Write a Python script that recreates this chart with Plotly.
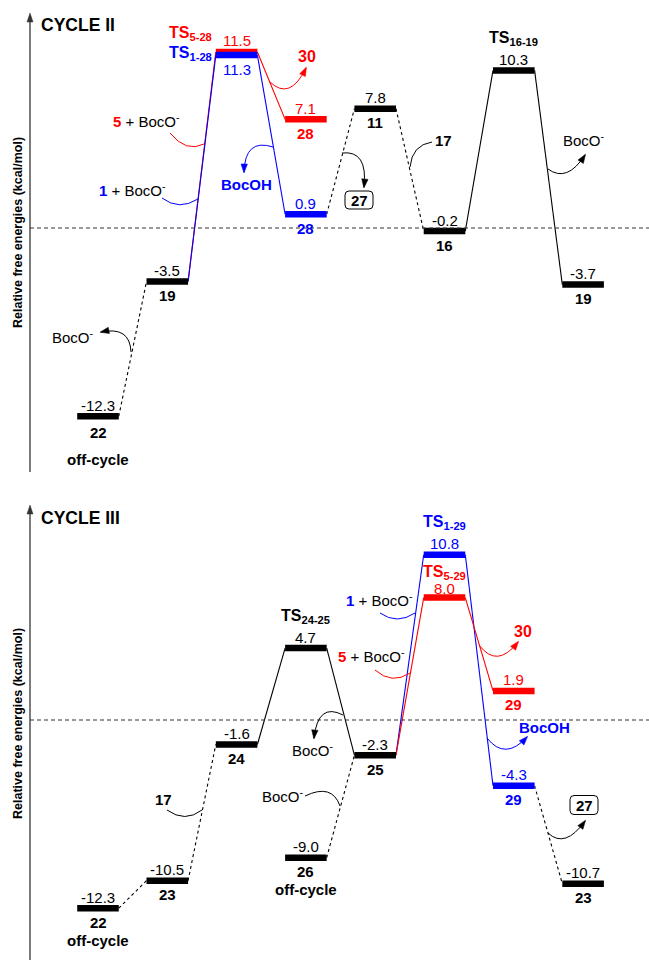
import plotly.graph_objects as go
import math

# ---------------- data ----------------
# CYCLE II
c2_species = ["22", "19", "TS<sub>5-28</sub>", "TS<sub>1-28</sub>", "28", "28",
              "11", "16", "TS<sub>16-19</sub>", "19"]
c2_step = [0, 1, 2, 2, 3, 3, 4, 5, 6, 7]
c2_energy = [-12.3, -3.5, 11.5, 11.3, 7.1, 0.9, 7.8, -0.2, 10.3, -3.7]
c2_route = ["common", "common", "5", "1", "5", "1", "common", "common", "common", "common"]
c2_links = [(0, 1, "dash"), (1, 2, "solid"), (1, 3, "solid"), (2, 4, "solid"),
            (3, 5, "solid"), (5, 6, "dash"), (6, 7, "dash"), (7, 8, "solid"), (8, 9, "solid")]
c2_offcycle = [0]

# CYCLE III
c3_species = ["22", "23", "24", "TS<sub>24-25</sub>", "26", "25",
              "TS<sub>1-29</sub>", "TS<sub>5-29</sub>", "29", "29", "23"]
c3_step = [0, 1, 2, 3, 3, 4, 5, 5, 6, 6, 7]
c3_energy = [-12.3, -10.5, -1.6, 4.7, -9.0, -2.3, 10.8, 8.0, 1.9, -4.3, -10.7]
c3_route = ["common", "common", "common", "common", "common", "common", "1", "5", "5", "1", "common"]
c3_links = [(0, 1, "dash"), (1, 2, "dash"), (2, 3, "solid"), (3, 5, "solid"), (4, 5, "dash"),
            (5, 6, "solid"), (5, 7, "solid"), (6, 9, "solid"), (7, 8, "solid"), (9, 10, "dash")]
c3_offcycle = [0, 4]

# ---------------- style / layout ----------------
W, H = 649, 960
RED, BLUE, BLACK = "#ff0000", "#0000ff", "#000000"
ROUTE_COLOR = {"common": BLACK, "1": BLUE, "5": RED}
FONT = "Liberation Sans, Arial, sans-serif"
STEP_PX, X0_PX = 69.3, 98.0
E_PX = 15.3
HALF = 0.30
VAL_SIZE, NAME_SIZE, TS_SIZE, LAB_SIZE = 15, 15, 16, 15

X_RANGE = [-X0_PX / STEP_PX, (W - X0_PX) / STEP_PX]
TOP_RANGE = [-(480 - 228) / E_PX, 228 / E_PX]
BOT_RANGE = [-(960 - 720) / E_PX, (720 - 490) / E_PX]

# label placement overrides (xshift, yshift) in px
VALUE_DY, NAME_DY, TS_DY = 11, -14, 32
overrides = {
    ("II", 0, "name"): (0, -16),
    ("II", 2, "value"): (0, 12), ("II", 2, "name"): (-46, 19),
    ("II", 3, "value"): (0, -14), ("II", 3, "name"): (-46, 2),
    ("III", 7, "value"): (0, 9), ("III", 7, "name"): (0, 25),
}
OFF_DY = {"II": -43, "III": -32}

panels = [
    dict(key="II", species=c2_species, step=c2_step, energy=c2_energy, route=c2_route,
         links=c2_links, off=c2_offcycle, xaxis="x", yaxis="y"),
    dict(key="III", species=c3_species, step=c3_step, energy=c3_energy, route=c3_route,
         links=c3_links, off=c3_offcycle, xaxis="x2", yaxis="y2"),
]

fig = go.Figure()

for p in panels:
    st, en, ro = p["step"], p["energy"], p["route"]
    # connectors
    for a, b, kind in p["links"]:
        col = ROUTE_COLOR[ro[b]]
        fig.add_trace(go.Scatter(
            x=[st[a] + HALF, st[b] - HALF], y=[en[a], en[b]], mode="lines",
            xaxis=p["xaxis"], yaxis=p["yaxis"], hoverinfo="skip",
            line=dict(color=col, width=1.1,
                      dash="solid" if kind == "solid" else "3px,3px")))
    # energy levels
    for route in ["common", "5", "1"]:
        xs, ys = [], []
        for i in range(len(st)):
            if ro[i] == route:
                xs += [st[i] - HALF, st[i] + HALF, None]
                ys += [en[i], en[i], None]
        fig.add_trace(go.Scatter(x=xs, y=ys, mode="lines", xaxis=p["xaxis"], yaxis=p["yaxis"],
                                 hoverinfo="skip",
                                 line=dict(color=ROUTE_COLOR[route], width=6.5)))
    # labels
    for i, sp in enumerate(p["species"]):
        col = ROUTE_COLOR[ro[i]]
        vx, vy = overrides.get((p["key"], i, "value"), (0, VALUE_DY))
        fig.add_annotation(x=st[i], y=en[i], xref=p["xaxis"], yref=p["yaxis"],
                           text=f"{en[i]:.1f}", showarrow=False, xshift=vx, yshift=vy,
                           xanchor="center", yanchor="middle",
                           font=dict(size=VAL_SIZE, color=col, family=FONT))
        is_ts = sp.startswith("TS")
        nx, ny = overrides.get((p["key"], i, "name"), (0, TS_DY if is_ts else NAME_DY))
        fig.add_annotation(x=st[i], y=en[i], xref=p["xaxis"], yref=p["yaxis"],
                           text=f"<b>{sp}</b>", showarrow=False, xshift=nx, yshift=ny,
                           xanchor="center", yanchor="middle",
                           font=dict(size=TS_SIZE if is_ts else NAME_SIZE, color=col, family=FONT))
    for i in p["off"]:
        fig.add_annotation(x=st[i], y=en[i], xref=p["xaxis"], yref=p["yaxis"],
                           text="<b>off-cycle</b>", showarrow=False, yshift=OFF_DY[p["key"]],
                           xanchor="center", yanchor="middle",
                           font=dict(size=NAME_SIZE, color=BLACK, family=FONT))
    # zero reference line
    fig.add_shape(type="line", xref="paper", yref=p["yaxis"], x0=30 / W, x1=1, y0=0, y1=0,
                  line=dict(color="#333333", width=1, dash="4px,3px"))


# ---------------- decorations (pixel positions of the reference) ----------------
def PX(x):
    return x / W


def PY(y):
    return 1 - y / H


def curve(p0, c, p1, color, arrow):
    path = f"M {PX(p0[0])},{PY(p0[1])} Q {PX(c[0])},{PY(c[1])} {PX(p1[0])},{PY(p1[1])}"
    fig.add_shape(type="path", path=path, xref="paper", yref="paper",
                  line=dict(color=color, width=1))
    if arrow:
        dx, dy = p1[0] - c[0], p1[1] - c[1]
        n = math.hypot(dx, dy)
        ux, uy = dx / n, dy / n
        L, w = 8, 3.2
        bx, by = p1[0] - ux * L, p1[1] - uy * L
        q1 = (bx - uy * w, by + ux * w)
        q2 = (bx + uy * w, by - ux * w)
        tri = (f"M {PX(p1[0] + ux)},{PY(p1[1] + uy)} L {PX(q1[0])},{PY(q1[1])} "
               f"L {PX(q2[0])},{PY(q2[1])} Z")
        fig.add_shape(type="path", path=tri, xref="paper", yref="paper",
                      fillcolor=color, line=dict(color=color, width=0.5))


def text(x, y, s, size=LAB_SIZE, color=BLACK, anchor="center"):
    fig.add_annotation(x=PX(x), y=PY(y), xref="paper", yref="paper", text=s, showarrow=False,
                       xanchor=anchor, yanchor="middle",
                       font=dict(size=size, color=color, family=FONT))


def box(cx, cy, s, w=28, h=18, r=4):
    x0, x1, y0, y1 = cx - w / 2, cx + w / 2, cy - h / 2, cy + h / 2
    pts = [("M", x0 + r, y0), ("L", x1 - r, y0), ("Q", x1, y0, x1, y0 + r), ("L", x1, y1 - r),
           ("Q", x1, y1, x1 - r, y1), ("L", x0 + r, y1), ("Q", x0, y1, x0, y1 - r),
           ("L", x0, y0 + r), ("Q", x0, y0, x0 + r, y0)]
    path = ""
    for seg in pts:
        cmd = seg[0]
        coords = seg[1:]
        c = " ".join(f"{PX(coords[k])},{PY(coords[k + 1])}" for k in range(0, len(coords), 2))
        path += f"{cmd} {c} "
    fig.add_shape(type="path", path=path + "Z", xref="paper", yref="paper",
                  line=dict(color=BLACK, width=1), fillcolor="white")
    text(cx, cy, f"<b>{s}</b>", NAME_SIZE)


BOCO = "BocO<sup>-</sup>"

# vertical energy axes with arrowheads
for y_bottom, y_top in [(472, 20), (960, 512)]:
    fig.add_shape(type="line", xref="paper", yref="paper", x0=PX(30), x1=PX(30),
                  y0=PY(y_bottom), y1=PY(y_top), line=dict(color="#333333", width=1.3))
    tip = y_top - 7
    fig.add_shape(type="path", xref="paper", yref="paper",
                  path=f"M {PX(30)},{PY(tip)} L {PX(27)},{PY(tip + 9)} L {PX(33)},{PY(tip + 9)} Z",
                  fillcolor="#333333", line=dict(color="#333333", width=0.5))

for yc in (233, 724):
    fig.add_annotation(x=PX(18), y=PY(yc), xref="paper", yref="paper",
                       text="<b>Relative free energies (kcal/mol)</b>", textangle=-90,
                       xanchor="center", yanchor="middle",
                       showarrow=False, font=dict(size=12.5, color=BLACK, family=FONT))

text(39, 25, "<b>CYCLE II</b>", 17.5, anchor="left")
text(39, 518, "<b>CYCLE III</b>", 17.5, anchor="left")

# Cycle II annotations
curve((204, 144), (186, 153), (170, 133), RED, False)
text(146, 121, f"<b><span style='color:{RED}'>5</span></b> + {BOCO}")
curve((198, 199), (179, 211), (162, 198), BLUE, False)
text(132, 189, f"<b><span style='color:{BLUE}'>1</span></b> + {BOCO}")
curve((270, 82), (290, 101), (306, 68), RED, True)
text(307, 57, "<b>30</b>", 16, RED)
curve((273, 147), (245, 138), (244, 172), BLUE, True)
text(246, 184, "<b>BocOH</b>", 15, BLUE)
curve((342, 153), (368, 150), (364, 187), BLACK, True)
box(359, 200, "27")
curve((410, 167), (412, 145), (432, 142), BLACK, False)
text(443, 140, "<b>17</b>", NAME_SIZE)
curve((548, 169), (567, 183), (585, 155), BLACK, True)
text(584, 139, BOCO)
curve((131, 352), (130, 326), (101, 332), BLACK, True)
text(73, 336, BOCO)

# Cycle III annotations
curve((415, 613), (397, 625), (380, 613), BLUE, False)
text(379, 599, f"<b><span style='color:{BLUE}'>1</span></b> + {BOCO}")
curve((410, 673), (392, 685), (375, 670), RED, False)
text(372, 655, f"<b><span style='color:{RED}'>5</span></b> + {BOCO}")
curve((479, 645), (497, 669), (518, 642), RED, True)
text(523, 631, "<b>30</b>", 16, RED)
curve((487, 738), (505, 761), (527, 737), BLUE, True)
text(544, 727, "<b>BocOH</b>", 15, BLUE)
curve((548, 833), (565, 849), (585, 821), BLACK, True)
box(584, 805, "27", 28, 19)
curve((343, 715), (318, 702), (314, 738), BLACK, True)
text(313, 749, BOCO)
curve((340, 806), (332, 783), (305, 796), BLACK, False)
text(283, 795, BOCO)
curve((202, 810), (185, 823), (167, 810), BLACK, False)
text(163, 799, "<b>17</b>", NAME_SIZE)

fig.update_layout(
    width=W, height=H, margin=dict(l=0, r=0, t=0, b=0),
    paper_bgcolor="white", plot_bgcolor="white", showlegend=False,
    font=dict(family=FONT, color=BLACK),
    xaxis=dict(domain=[0, 1], range=X_RANGE, visible=False, fixedrange=True),
    yaxis=dict(domain=[0.5, 1], range=TOP_RANGE, visible=False, fixedrange=True),
    xaxis2=dict(domain=[0, 1], range=X_RANGE, visible=False, anchor="y2", fixedrange=True),
    yaxis2=dict(domain=[0, 1 - 490 / H], range=BOT_RANGE, visible=False, anchor="x2",
                fixedrange=True),
)

fig.write_html("out.html")
